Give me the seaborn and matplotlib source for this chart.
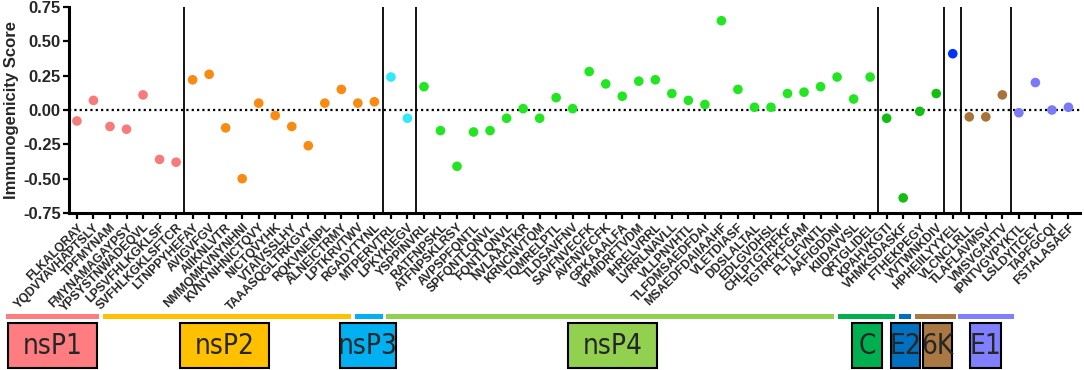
import matplotlib
matplotlib.use('Agg')
import matplotlib.pyplot as plt
from matplotlib.patches import Rectangle
import numpy as np
import pandas as pd
import seaborn as sns

# peptide labels, in order along the polyprotein
peptides = [
    'FLKALQRAY', 'YQDVYAVHAPTSLY', 'TPFMYNAM', 'FMYNAMAGAYPSY', 'YPSYSTNWADEQVL',
    'LPSVFHLKGKLSF', 'SVFHLKGKLSFTCR',
    'LTNPPYHEFAY', 'AVIGVFGV', 'AIIKNLVTR', 'NMMQMKVNYNHNI', 'KVNYNHNICTQVY',
    'NICTQVYHK', 'VTAIVSSLHY', 'TAAASQGLTRKGVY', 'RQKVNENPL', 'ALNEICTRMY',
    'LPTKRVTWV', 'RGADYTYNL',
    'MTPERVTRL', 'LPKYKIEGV',
    'YSPPINVRL', 'RATFNPSKL', 'ATFNPSKLRSY', 'AVPSPFQNTL', 'SPFQNTLQNVL',
    'FQNTLQNVL', 'NVLAAATKR', 'KRNCNVTQM', 'TQMRELPTL', 'TLDSAVFNV',
    'SAVFNVECFK', 'AVFNVECFK', 'GPKAAALFA', 'VPMDRFTVDM', 'IHRELVRRL',
    'LVRRLNAVLL', 'VLLPNVHTL', 'TLFDMSAEDFDAI', 'MSAEDFDAIIAAHF', 'VLETDIASF',
    'DDSLALTAL', 'EDLGVDHSL', 'CHLPTGTRFKF', 'TGTRFKFGAM', 'FLTLFVNTL',
    'AAFIGDDNI', 'KIIDAVVSL', 'QRTGLIDEL',
    'KPAHVKGTI', 'VHMKSDASKF', 'FTHEKPEGY', 'VVTWNKDIV',
    'HPHEIILYYYEL',
    'VLCNCLRLL', 'TLAFLAVMSV', 'VMSVGAHTV',
    'IPNTVGVPYKTL', 'LSLDYITCEY', 'TAPFGCQI', 'FSTALASAEF',
]

scores = [
    -0.08, 0.07, -0.12, -0.14, 0.11, -0.36, -0.38,
    0.22, 0.26, -0.13, -0.50, 0.05, -0.04, -0.12, -0.26, 0.05, 0.15, 0.05, 0.06,
    0.24, -0.06,
    0.17, -0.15, -0.41, -0.16, -0.15, -0.06, 0.01, -0.06, 0.09, 0.01,
    0.28, 0.19, 0.10, 0.21, 0.22, 0.12, 0.07, 0.04, 0.65, 0.15,
    0.02, 0.02, 0.12, 0.13, 0.17, 0.24, 0.08, 0.24,
    -0.06, -0.64, -0.01, 0.12,
    0.41,
    -0.05, -0.05, 0.11,
    -0.02, 0.20, 0.00, 0.02,
]

proteins = ['nsP1', 'nsP2', 'nsP3', 'nsP4', 'C', 'E2', '6K', 'E1']
protein_counts = [7, 12, 2, 28, 4, 1, 3, 4]

point_colors = ['#F77B7B', '#F98A12', '#33E8F8', '#22E622',
                '#12BE12', '#0533F5', '#A8743A', '#7A7AF8']
bar_colors = ['#FF7C80', '#FFC000', '#00B0F0', '#92D050',
              '#00B050', '#0070C0', '#AA7842', '#8080FF']

# bottom legend layout, in figure pixels (x0, x1) for bars and boxes
bar_spans = [(6, 99), (103, 351), (355, 383), (386, 834),
             (838, 895), (899, 911), (915, 956), (958, 1014)]
box_spans = [(8, 97), (180, 269), (340, 396), (568, 657),
             (852, 882), (891, 920), (923, 952), (970, 1001)]

W, H = 1084, 370

df = pd.DataFrame({
    'peptide': peptides,
    'score': scores,
    'protein': np.repeat(proteins, protein_counts),
})
df['pos'] = np.arange(len(df))

sns.set_style('white')
plt.rcParams['font.family'] = ['Liberation Sans', 'DejaVu Sans']

fig = plt.figure(figsize=(W / 100, H / 100), dpi=100)
ax = fig.add_axes([69 / W, 1 - 213 / H, (1080 - 69) / W, (213 - 7) / H])

sns.scatterplot(data=df, x='pos', y='score', hue='protein',
                palette=dict(zip(proteins, point_colors)),
                s=48, edgecolor='none', legend=False, ax=ax, zorder=3)

ax.axhline(0, color='black', lw=1.6, linestyle=(0, (1, 1.4)), zorder=2)
bounds = np.cumsum(protein_counts)[:-1] - 0.5
for b in bounds:
    ax.axvline(b, color='black', lw=1.3, zorder=1)

ax.set_xlim(-0.48, 60.7)
ax.set_ylim(-0.75, 0.75)
ax.set_yticks([-0.75, -0.5, -0.25, 0, 0.25, 0.5, 0.75])
ax.set_yticklabels(['-0.75', '-0.50', '-0.25', '0.00', '0.25', '0.50', '0.75'],
                   fontsize=12, fontweight='bold')
ax.set_xticks(df['pos'])
ax.set_xticklabels(df['peptide'], rotation=45, ha='right',
                   rotation_mode='anchor', fontsize=8.8, fontweight='bold')
ax.set_xlabel('')
ax.set_ylabel('Immunogenicity Score', fontsize=12, fontweight='bold', labelpad=3)

for side in ['top', 'right']:
    ax.spines[side].set_visible(False)
for side in ['left', 'bottom']:
    ax.spines[side].set_linewidth(2.2)
    ax.spines[side].set_color('black')
ax.tick_params(axis='both', direction='out', length=4, width=1.6,
               color='black', pad=2, bottom=True, left=True)

# protein bars and name boxes under the axis
lay = fig.add_axes([0, 0, 1, 1], facecolor='none')
lay.set_xlim(0, W)
lay.set_ylim(H, 0)
lay.axis('off')
for name, bc, (b0, b1), (x0, x1) in zip(proteins, bar_colors, bar_spans, box_spans):
    lay.add_patch(Rectangle((b0, 313.5), b1 - b0, 5.5, facecolor=bc,
                            edgecolor='none'))
    lay.add_patch(Rectangle((x0, 322.5), x1 - x0, 45, facecolor=bc,
                            edgecolor='black', lw=1.5))
    lay.text((x0 + x1) / 2, 345.5, name, ha='center', va='center',
             fontsize=20, family='DejaVu Sans', fontstretch='condensed')

fig.savefig('out.png', dpi=100)
